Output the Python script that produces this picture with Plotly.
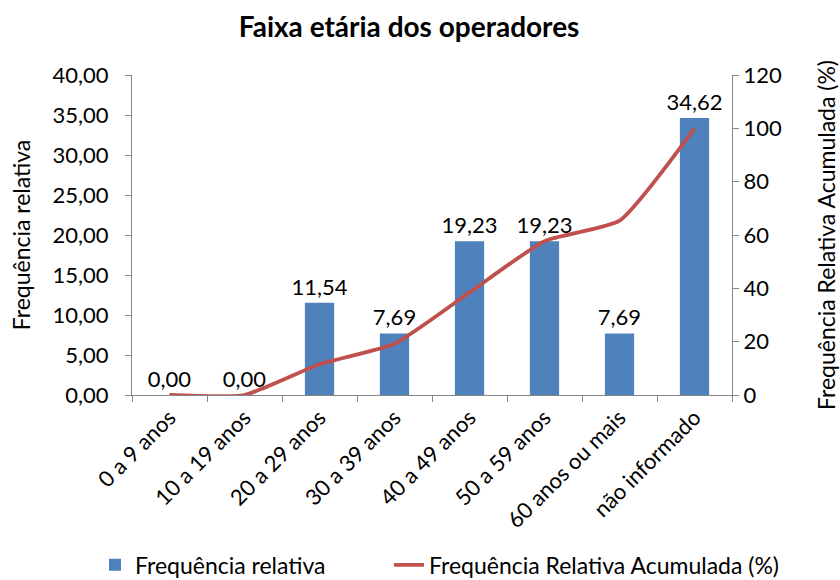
import plotly.graph_objects as go

categories = ["0 a 9 anos", "10 a 19 anos", "20 a 29 anos", "30 a 39 anos",
              "40 a 49 anos", "50 a 59 anos", "60 anos ou mais", "não informado"]
freq_rel = [0.00, 0.00, 11.54, 7.69, 19.23, 19.23, 7.69, 34.62]
freq_acum = [0.00, 0.00, 11.54, 19.23, 38.46, 57.69, 65.38, 100.00]

FONT = "Lato"
AXIS_COLOR = "#868686"
TXT = 22

fig = go.Figure()
fig.add_trace(go.Bar(
    x=categories, y=freq_rel, name="Frequência relativa",
    marker=dict(color="#4F81BD", line=dict(width=0)),
    width=0.39,
    text=freq_rel, texttemplate="%{y:.2f}", textposition="outside",
    constraintext="none",
    textfont=dict(size=TXT, color="#000000", family=FONT),
    cliponaxis=False,
    legend="legend",
))
fig.add_trace(go.Scatter(
    x=categories, y=freq_acum, name="Frequência Relativa Acumulada (%)",
    mode="lines", yaxis="y2",
    line=dict(color="#C0504D", width=3.8, shape="spline", smoothing=0.5),
    legend="legend2",
))

fig.update_layout(
    width=840, height=580,
    paper_bgcolor="white", plot_bgcolor="white",
    separators=",.",
    font=dict(family=FONT, size=TXT, color="#000000"),
    margin=dict(l=132, r=108, t=75, b=185, autoexpand=False),
    title=dict(text="<b>Faixa etária dos operadores</b>", x=0.487, xanchor="center",
               y=0.953, yanchor="middle", font=dict(size=28, family=FONT)),
    bargap=0.6,
    showlegend=True,
    legend=dict(orientation="h", xref="container", yref="container",
                x=0.1131, xanchor="left", y=0.026, yanchor="middle",
                font=dict(size=23, family=FONT), itemwidth=30,
                bgcolor="rgba(0,0,0,0)"),
    legend2=dict(orientation="h", xref="container", yref="container",
                 x=0.4631, xanchor="left", y=0.026, yanchor="middle",
                 font=dict(size=23, family=FONT), itemwidth=30,
                 bgcolor="rgba(0,0,0,0)"),
    xaxis=dict(
        type="category", tickangle=-45, showgrid=False, automargin=False,
        showline=True, linecolor=AXIS_COLOR, linewidth=1,
        ticks="outside", tickson="boundaries", ticklen=6, tickcolor=AXIS_COLOR,
        tickfont=dict(size=TXT, family=FONT),
    ),
    yaxis=dict(
        range=[0, 40], dtick=5, tickformat=".2f", showgrid=False, automargin=False,
        showline=True, linecolor=AXIS_COLOR, linewidth=1,
        ticks="outside", ticklen=6, tickcolor=AXIS_COLOR, ticklabelstandoff=12,
        tickfont=dict(size=TXT, family=FONT),
        title=dict(text="Frequência relativa", font=dict(size=23, family=FONT), standoff=15),
        zeroline=False,
    ),
    yaxis2=dict(
        range=[0, 120], dtick=20, overlaying="y", side="right", showgrid=False,
        automargin=False,
        showline=True, linecolor=AXIS_COLOR, linewidth=1,
        ticks="outside", ticklen=6, tickcolor=AXIS_COLOR,
        tickfont=dict(size=TXT, family=FONT),
        title=dict(text="Frequência Relativa Acumulada (%)", font=dict(size=23, family=FONT), standoff=40),
        zeroline=False,
    ),
)

fig.write_html("out.html", config={"displayModeBar": False},
               post_script="document.body.style.margin='0px';")
